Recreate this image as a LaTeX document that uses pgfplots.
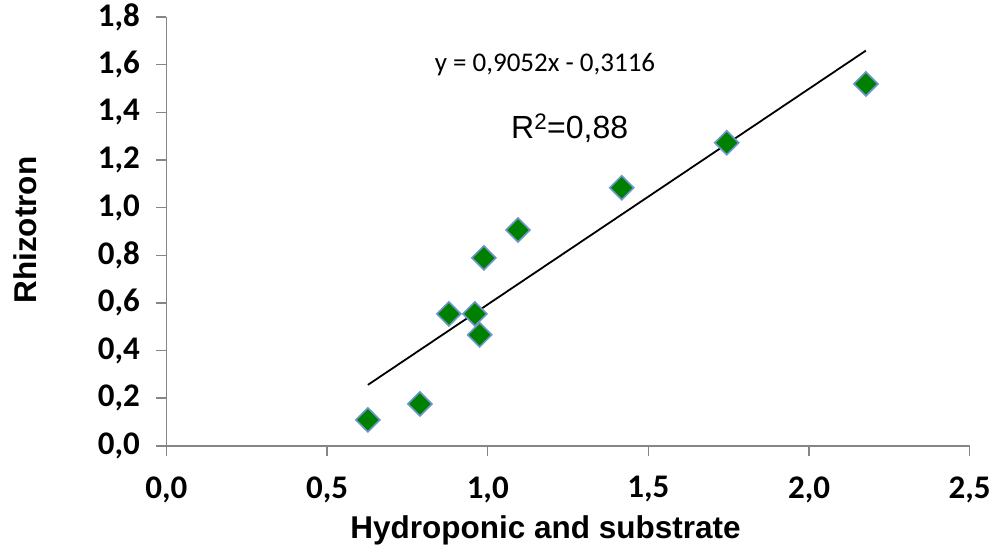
\documentclass[border=0pt]{standalone}
\usepackage{fontspec}
\setmainfont{Liberation Sans}
\newfontfamily\calibri{Carlito}
\usepackage{pgfplots}
\pgfplotsset{compat=1.18}

\definecolor{axisgray}{RGB}{134,134,134}
\definecolor{markgreen}{RGB}{0,128,0}
\definecolor{markedge}{RGB}{110,150,205}

\begin{document}
\begin{tikzpicture}
\begin{axis}[
    scale only axis,
    width=803.5pt, height=429pt,
    xmin=0, xmax=2.5, ymin=0, ymax=1.8,
    axis x line*=bottom, axis y line*=left,
    axis line style={axisgray, line width=1.5pt},
    xtick={0,0.5,...,2.5},
    ytick={0,0.2,...,1.8},
    tick align=outside,
    major tick length=10pt,
    tick style={axisgray, line width=1.5pt},
    /pgf/number format/.cd, fixed, fixed zerofill, precision=1, use comma, assume math mode=true,
    /pgfplots/.cd,
    ticklabel style={font=\calibri\bfseries\fontsize{33}{34}\selectfont},
    yticklabel style={xshift=-13pt},
    xticklabel style={yshift=-17pt},
    xlabel={Hydroponic and substrate},
    ylabel={Rhizotron},
    label style={font=\bfseries\fontsize{31.5}{32}\selectfont},
    xlabel style={at={(axis description cs:0.472,0)}, anchor=north, yshift=-66pt},
    ylabel style={at={(axis description cs:-0.176,0.503)}, anchor=center},
    clip=false,
]
\addplot[only marks, mark=square*, mark size=8.5pt,
    mark options={rotate=45, fill=markgreen, draw=markedge, line width=1.6pt}]
    coordinates {
    (0.627,0.109) (0.789,0.176) (0.879,0.554) (0.960,0.554) (0.975,0.466)
    (0.988,0.789) (1.094,0.906) (1.417,1.083) (1.744,1.272) (2.177,1.519)
    };
\addplot[black, line width=1.8pt] coordinates {(0.627,0.256) (2.177,1.659)};
\node[font=\calibri\fontsize{27}{28}\selectfont] at (axis cs:1.178,1.599) {y = 0,9052x - 0,3116};
\node[font=\fontsize{32}{34}\selectfont] at (axis cs:1.255,1.334) {R\textsuperscript{2}=0,88};
\end{axis}
\path[use as bounding box] (-166.5pt,-105pt) rectangle (827.5pt,446pt);
\end{tikzpicture}
\end{document}
